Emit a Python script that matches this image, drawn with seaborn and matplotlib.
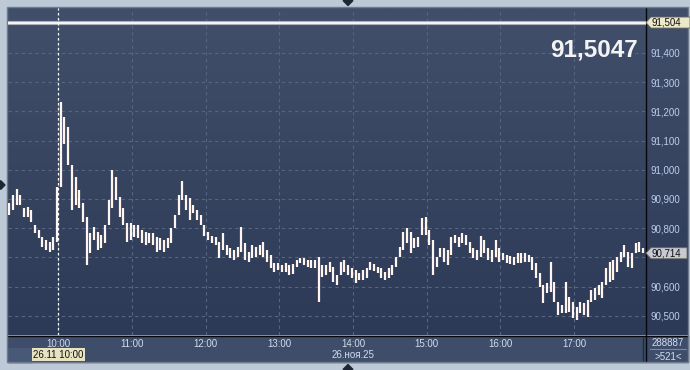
import numpy as np
import pandas as pd
import matplotlib
matplotlib.use("Agg")
import matplotlib.pyplot as plt
import matplotlib.dates as mdates
from matplotlib.ticker import FuncFormatter, FixedLocator
from matplotlib.patches import Rectangle, Polygon
from matplotlib.colors import LinearSegmentedColormap
import seaborn as sns

# ---------------- data ----------------
session_start = "2025-11-26 09:20"   # first bar, 3-minute bars
high = [
    90.886, 90.913, 90.934, 90.913, 90.869, 90.872, 90.862, 90.811, 90.794, 90.769,
    90.759, 90.752, 90.769, 90.941, 91.232, 91.180, 91.146, 91.016, 90.975, 90.930,
    90.886, 90.838, 90.783, 90.804, 90.787, 90.776, 90.811, 90.896, 90.999, 90.975,
    90.907, 90.869, 90.818, 90.818, 90.811, 90.811, 90.794, 90.787, 90.783, 90.783,
    90.769, 90.766, 90.759, 90.766, 90.800, 90.845, 90.913, 90.961, 90.913, 90.903,
    90.879, 90.862, 90.845, 90.811, 90.787, 90.773, 90.769, 90.752, 90.783, 90.742,
    90.732, 90.725, 90.735, 90.804, 90.749, 90.718, 90.742, 90.735, 90.742, 90.752,
    90.725, 90.708, 90.680, 90.680, 90.674, 90.680, 90.674, 90.677, 90.691, 90.698,
    90.698, 90.691, 90.691, 90.691, 90.701, 90.674, 90.674, 90.684, 90.667, 90.639,
    90.684, 90.691, 90.674, 90.663, 90.657, 90.646, 90.657, 90.663, 90.684, 90.677,
    90.667, 90.663, 90.650, 90.663, 90.674, 90.701, 90.735, 90.787, 90.800, 90.787,
    90.766, 90.769, 90.834, 90.838, 90.794, 90.759, 90.701, 90.732, 90.732, 90.725,
    90.769, 90.776, 90.769, 90.783, 90.776, 90.752, 90.732, 90.725, 90.773, 90.759,
    90.732, 90.725, 90.759, 90.732, 90.715, 90.708, 90.704, 90.701, 90.715, 90.715,
    90.715, 90.708, 90.701, 90.680, 90.646, 90.605, 90.612, 90.684, 90.615, 90.547,
    90.537, 90.615, 90.564, 90.547, 90.530, 90.547, 90.543, 90.554, 90.588, 90.594,
    90.605, 90.615, 90.663, 90.684, 90.691, 90.701, 90.718, 90.742, 90.718, 90.715,
    90.749, 90.752, 90.732]
low = [
    90.845, 90.862, 90.879, 90.879, 90.838, 90.838, 90.821, 90.783, 90.766, 90.735,
    90.725, 90.718, 90.725, 90.752, 90.941, 91.088, 91.016, 90.862, 90.879, 90.869,
    90.821, 90.674, 90.715, 90.759, 90.725, 90.732, 90.749, 90.811, 90.869, 90.896,
    90.838, 90.811, 90.752, 90.759, 90.769, 90.766, 90.749, 90.742, 90.749, 90.742,
    90.718, 90.725, 90.718, 90.732, 90.749, 90.800, 90.845, 90.896, 90.862, 90.828,
    90.852, 90.828, 90.811, 90.773, 90.759, 90.749, 90.742, 90.698, 90.725, 90.708,
    90.698, 90.691, 90.701, 90.718, 90.691, 90.684, 90.698, 90.701, 90.708, 90.701,
    90.684, 90.663, 90.650, 90.657, 90.650, 90.650, 90.639, 90.643, 90.667, 90.680,
    90.674, 90.667, 90.663, 90.663, 90.547, 90.632, 90.639, 90.650, 90.615, 90.605,
    90.639, 90.650, 90.639, 90.629, 90.612, 90.622, 90.622, 90.629, 90.657, 90.653,
    90.646, 90.629, 90.622, 90.629, 90.639, 90.667, 90.701, 90.725, 90.749, 90.715,
    90.732, 90.735, 90.776, 90.776, 90.742, 90.639, 90.667, 90.701, 90.684, 90.674,
    90.708, 90.749, 90.735, 90.749, 90.742, 90.715, 90.698, 90.691, 90.701, 90.715,
    90.691, 90.684, 90.701, 90.684, 90.691, 90.680, 90.677, 90.674, 90.680, 90.680,
    90.684, 90.684, 90.657, 90.629, 90.598, 90.543, 90.577, 90.581, 90.547, 90.503,
    90.510, 90.510, 90.513, 90.492, 90.485, 90.510, 90.503, 90.496, 90.547, 90.554,
    90.571, 90.560, 90.605, 90.615, 90.622, 90.650, 90.684, 90.701, 90.667, 90.663,
    90.715, 90.718, 90.715]

price_ticks = [90.5, 90.6, 90.7, 90.8, 90.9, 91.0, 91.1, 91.2, 91.3, 91.4]
level_price = 91.504
level_label = "91,504"
last_price = 90.714
last_label = "90,714"
big_quote = "91,5047"
cursor_time = "2025-11-26 10:00"
cursor_label = "26.11 10:00"
date_label = "26.ноя.25"
volume_label = "288887"
count_label = ">521<"
x_start = "2025-11-26 09:19"
x_end = "2025-11-26 17:58:06"
y_lo, y_hi = 90.4339, 91.5538

# ---------------- build long table ----------------
times = pd.date_range(session_start, periods=len(high), freq="3min")
rows = []
for i, (t, h, l) in enumerate(zip(times, high, low)):
    rows.append({"time": t, "price": h, "bar": i})
    rows.append({"time": t, "price": l, "bar": i})
df = pd.DataFrame(rows)

# ---------------- style ----------------
sns.set_theme(style="dark")
plt.rcParams['font.family'] = ['Liberation Sans', 'DejaVu Sans']

W, H = 690, 370
fig = plt.figure(figsize=(6.9, 3.7), dpi=100)
fig.patch.set_facecolor('#bdc9d7')

bg = fig.add_axes([0, 0, 1, 1])
bg.set_xlim(0, W)
bg.set_ylim(H, 0)
bg.axis('off')
bg.set_zorder(0)

grad = np.linspace(0, 1, 256).reshape(-1, 1)
cmap = LinearSegmentedColormap.from_list('g', ['#414f6a', '#2c3a57'])
bg.imshow(grad, extent=[8, 688, 335, 8], cmap=cmap, aspect='auto', zorder=0)
bg.add_patch(Rectangle((8, 336), 680, 26, color='#3e4d6a', zorder=1))
bg.add_patch(Rectangle((8, 348), 24, 14, color='#485877', zorder=1))
bg.plot([645.5, 645.5], [8, 362], color='#05070c', lw=1.0, zorder=3)
bg.plot([8, 688], [335.5, 335.5], color='#05070c', lw=1.0, zorder=3)
bg.plot([643, 643], [338, 361], color='#232b3b', lw=1.0, zorder=3)
bg.plot([650, 686], [349, 349], color='#7a8aa4', lw=0.8, zorder=3)
bg.add_patch(Rectangle((7, 7), 681, 355, fill=False, edgecolor='#6f7a8c', lw=1.0, zorder=4))
for tri in ([(343, 0.5), (353, 0.5), (348, 5.5)],
            [(343, 369.5), (353, 369.5), (348, 364.5)],
            [(0.5, 180.5), (0.5, 189.5), (5, 185)]):
    bg.add_patch(Polygon(tri, closed=True, color='#1e2535', zorder=4))

# ---------------- main axes ----------------
ax = fig.add_axes([8 / W, 1 - 335 / H, 637.5 / W, 327 / H])
ax.set_zorder(2)
ax.patch.set_alpha(0)
for s in ax.spines.values():
    s.set_visible(False)

sns.lineplot(data=df, x="time", y="price", units="bar", estimator=None,
             color='#fff4ee', linewidth=1.6, ax=ax, legend=False, sort=False)
for ln in ax.lines:
    ln.set_solid_capstyle('butt')
    ln.set_zorder(5)

ax.set_xlim(pd.Timestamp(x_start), pd.Timestamp(x_end))
ax.set_ylim(y_lo, y_hi)
ax.set_xlabel("")
ax.set_ylabel("")


def fmt_price(v, p=None):
    if abs(v - last_price) < 0.02:
        return ""          # hidden under the current-price tag
    return f"{v:.3f}".replace('.', ',')


ax.xaxis.set_major_locator(mdates.HourLocator(byhour=range(10, 18)))
ax.xaxis.set_major_formatter(mdates.DateFormatter('%H:%M'))
ax.yaxis.set_major_locator(FixedLocator(price_ticks))
ax.yaxis.set_major_formatter(FuncFormatter(fmt_price))
ax.yaxis.tick_right()
ax.tick_params(axis='y', length=0, pad=3.6, labelsize=7, labelcolor='#bccdea')
ax.tick_params(axis='x', length=0, pad=3.2, labelsize=7, labelcolor='#d2dcee')
ax.grid(True, color='#566680', linestyle=(0, (3, 3)), linewidth=0.8)
ax.set_axisbelow(True)

ax.axhline(level_price, color='#a4abb8', lw=3.0, zorder=3)
ax.axhline(level_price, color='#f4f4f4', lw=1.5, zorder=3)
ax.axvline(pd.Timestamp(cursor_time), color='white', lw=0.9,
           linestyle=(0, (2, 2)), zorder=4)

# ---------------- overlay layer for tags / texts ----------------
top = fig.add_axes([0, 0, 1, 1])
top.set_xlim(0, W)
top.set_ylim(H, 0)
top.axis('off')
top.patch.set_alpha(0)
top.set_zorder(5)

fig.canvas.draw()


def price_pix(v):
    yd = ax.transData.transform((mdates.date2num(pd.Timestamp(cursor_time)), v))[1]
    return H - yd


def price_tag(v, text, fc, right):
    y = price_pix(v)
    poly = [(646, y), (651, y - 5.5), (right, y - 5.5), (right, y + 5.5), (651, y + 5.5)]
    top.add_patch(Polygon(poly, closed=True, facecolor=fc, edgecolor='#6d6b60',
                          lw=0.6, zorder=6))
    top.text(652, y + 0.3, text, ha='left', va='center', fontsize=7,
             color='#101010', zorder=7)


price_tag(level_price, level_label, '#ece8c8', 690)
price_tag(last_price, last_label, '#c6cad2', 687)

top.text(638, 57, big_quote, ha='right', va='baseline', fontsize=17.5,
         fontweight='bold', color='#f4f4f4', zorder=6)
top.text(58.5, 354.5, cursor_label, ha='center', va='center', fontsize=7,
         color='#101010', zorder=6,
         bbox=dict(boxstyle='square,pad=0.15', fc='#e6e2c2', ec='none'))
top.text(353.5, 355, date_label, ha='center', va='center', fontsize=7,
         color='#d2dcee', zorder=6)
top.text(668, 343.5, volume_label, ha='center', va='center', fontsize=7,
         color='#d2dcee', zorder=6)
top.text(668, 356.5, count_label, ha='center', va='center', fontsize=7,
         color='#d2dcee', zorder=6)

fig.savefig("out.png", dpi=100, facecolor=fig.get_facecolor())
